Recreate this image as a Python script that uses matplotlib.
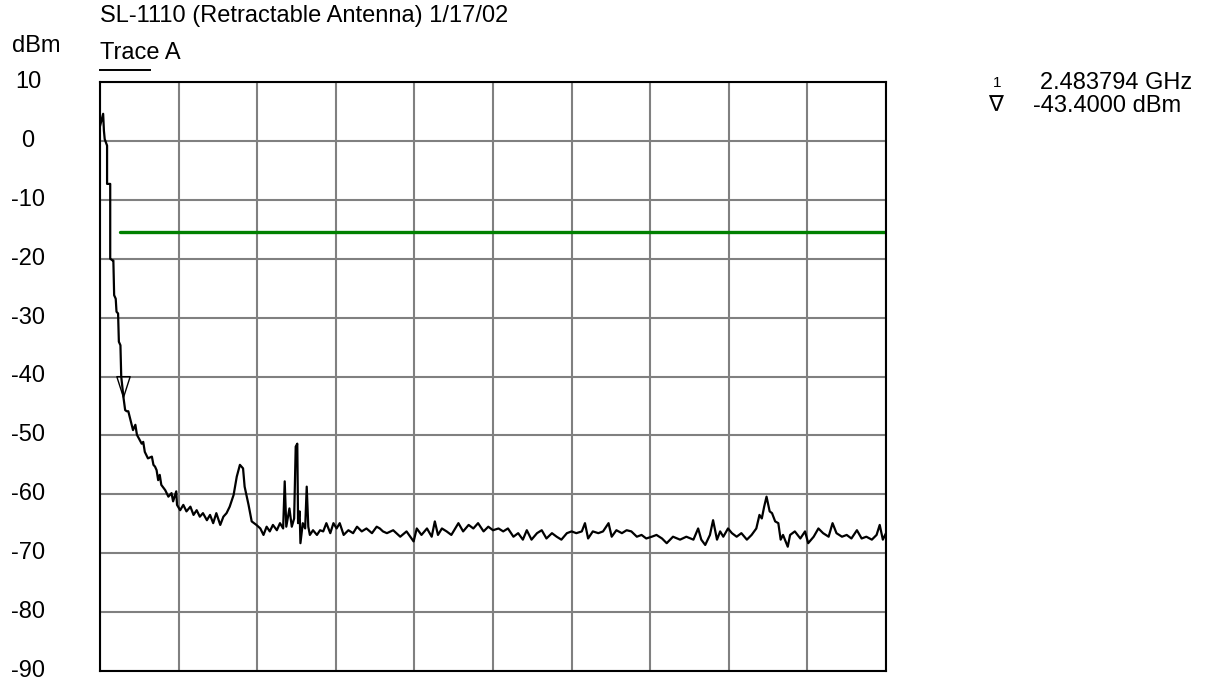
import numpy as np
import matplotlib
matplotlib.use("Agg")
from matplotlib import pyplot as plt
from matplotlib.path import Path

plt.rcParams['font.family'] = ['Liberation Sans', 'DejaVu Sans']

# trace A, x in screen divisions (0-10), level in dBm
trace_x = [0.00, 0.04, 0.05, 0.06, 0.09, 0.09, 0.11, 0.13, 0.13, 0.16, 0.17, 0.18, 0.20, 0.21, 0.23,
           0.24, 0.26, 0.27, 0.30, 0.32, 0.34, 0.36, 0.40, 0.42, 0.45, 0.47, 0.53, 0.55, 0.57, 0.61,
           0.66, 0.68, 0.70, 0.72, 0.74, 0.76, 0.78, 0.83, 0.87, 0.91, 0.93, 0.97, 0.98, 1.02, 1.06,
           1.10, 1.15, 1.19, 1.23, 1.27, 1.31, 1.36, 1.40, 1.44, 1.48, 1.53, 1.57, 1.61, 1.65, 1.70,
           1.74, 1.78, 1.82, 1.84, 1.89, 1.93, 1.99, 2.04, 2.08, 2.12, 2.16, 2.20, 2.25, 2.29, 2.33,
           2.35, 2.37, 2.41, 2.44, 2.47, 2.49, 2.51, 2.52, 2.54, 2.55, 2.58, 2.61, 2.63, 2.65, 2.67,
           2.71, 2.76, 2.80, 2.84, 2.88, 2.93, 2.97, 3.01, 3.05, 3.10, 3.16, 3.22, 3.27, 3.33, 3.39,
           3.46, 3.52, 3.56, 3.60, 3.65, 3.73, 3.82, 3.90, 3.99, 4.03, 4.09, 4.16, 4.22, 4.26, 4.30,
           4.35, 4.41, 4.47, 4.52, 4.56, 4.62, 4.69, 4.75, 4.81, 4.88, 4.94, 5.00, 5.07, 5.13, 5.19,
           5.26, 5.32, 5.38, 5.43, 5.49, 5.56, 5.62, 5.68, 5.75, 5.81, 5.87, 5.94, 6.00, 6.06, 6.13,
           6.17, 6.21, 6.27, 6.34, 6.40, 6.47, 6.51, 6.57, 6.64, 6.70, 6.76, 6.83, 6.89, 6.95, 7.02,
           7.08, 7.15, 7.21, 7.29, 7.38, 7.46, 7.55, 7.61, 7.65, 7.70, 7.76, 7.80, 7.85, 7.89, 7.93,
           7.99, 8.04, 8.10, 8.16, 8.23, 8.29, 8.35, 8.39, 8.42, 8.45, 8.48, 8.52, 8.55, 8.59, 8.63,
           8.66, 8.69, 8.75, 8.78, 8.84, 8.91, 8.97, 9.01, 9.08, 9.14, 9.20, 9.27, 9.32, 9.37, 9.44,
           9.50, 9.56, 9.63, 9.69, 9.75, 9.82, 9.88, 9.92, 9.96, 10.00]
trace_dbm = [2.5, 4.6, 1.7, 0.3, -0.8, -7.3, -7.3, -7.3, -20.0, -20.3, -20.3, -26.2, -26.8, -29.0, -29.3,
             -34.1, -34.7, -40.0, -43.7, -45.7, -45.9, -45.9, -48.0, -49.1, -48.2, -49.9, -51.4, -51.1, -52.8, -53.9,
             -53.6, -55.0, -55.3, -55.9, -57.6, -56.7, -58.4, -59.3, -60.4, -59.8, -61.2, -59.5, -61.8, -62.7, -61.8,
             -62.9, -62.1, -63.5, -62.7, -63.8, -63.2, -64.4, -63.5, -64.9, -63.2, -65.2, -63.8, -63.2, -62.1, -60.1,
             -57.0, -55.0, -55.6, -58.7, -61.8, -64.6, -65.2, -65.8, -66.9, -65.5, -66.3, -65.2, -66.1, -64.9, -65.8,
             -57.8, -65.5, -62.4, -65.5, -64.1, -51.9, -51.4, -64.9, -62.9, -68.3, -64.9, -65.8, -58.7, -65.5, -66.9,
             -66.1, -66.9, -66.1, -66.3, -64.9, -66.6, -64.9, -65.8, -64.9, -66.9, -66.1, -66.6, -65.5, -66.3, -65.8,
             -66.6, -65.5, -65.8, -66.3, -66.6, -66.1, -67.2, -66.3, -68.0, -65.8, -66.9, -65.8, -67.2, -64.6, -66.9,
             -65.8, -66.3, -66.9, -65.8, -64.9, -66.3, -65.2, -65.8, -64.9, -66.3, -65.5, -66.1, -65.8, -66.3, -65.8,
             -67.2, -66.6, -67.7, -66.1, -67.7, -66.6, -66.1, -67.5, -66.6, -67.2, -67.7, -66.6, -66.3, -66.6, -66.3,
             -64.9, -67.5, -66.3, -66.6, -66.3, -64.9, -67.2, -66.1, -66.6, -66.1, -66.3, -67.2, -66.9, -67.5, -67.2,
             -66.9, -67.5, -68.3, -67.2, -67.7, -67.2, -67.7, -65.8, -67.7, -68.6, -66.9, -64.4, -67.7, -66.3, -67.2,
             -65.8, -66.6, -67.2, -66.6, -67.7, -66.9, -65.8, -63.5, -64.1, -62.1, -60.4, -62.9, -63.2, -64.6, -64.9,
             -67.7, -66.9, -68.9, -66.9, -66.3, -67.5, -66.3, -68.3, -67.2, -65.8, -66.6, -67.2, -64.9, -66.6, -67.2,
             -66.9, -67.5, -66.1, -67.5, -67.2, -67.7, -66.9, -65.2, -67.7, -66.6]

# display line (green)
limit_x = [0.26, 10.0]
limit_dbm = [-15.5, -15.5]

# marker 1
marker_x = 0.29
marker_dbm = -43.4
marker_freq = "2.483794 GHz"
marker_level = "-43.4000 dBm"

y_ticks = [10, 0, -10, -20, -30, -40, -50, -60, -70, -80, -90]
title = "SL-1110 (Retractable Antenna) 1/17/02"

W, H = 1206, 684
FS = 17
fig = plt.figure(figsize=(W / 100, H / 100), dpi=100)
ax = fig.add_axes([100 / W, (H - 671) / H, 786 / W, 589 / H])

ax.set_xlim(0, 10)
ax.set_ylim(-90, 10)
ax.set_xticks(np.arange(0, 11, 1))
ax.set_yticks(y_ticks)
ax.grid(True, color='#808080', linewidth=1.5)
ax.tick_params(length=0, labelbottom=False, labelleft=False)
for s in ax.spines.values():
    s.set_linewidth(1.5)
    s.set_zorder(5)

ax.plot(limit_x, limit_dbm, color='#008000', linewidth=2.4, solid_capstyle='round', zorder=3)
ax.plot(trace_x, trace_dbm, color='black', linewidth=1.6, zorder=4)

# marker triangle with its tip on the trace
tri = Path([(-0.32, 1.0), (0.32, 1.0), (0.0, 0.0), (-0.32, 1.0)],
           [Path.MOVETO, Path.LINETO, Path.LINETO, Path.CLOSEPOLY])
ax.plot([marker_x], [marker_dbm], marker=tri, markersize=30, markerfacecolor='none',
        markeredgecolor='black', markeredgewidth=1.0, linestyle='none', zorder=6)


def px(x, y):
    return x / W, 1 - y / H


for v in y_ticks:
    yy = ax.transData.transform((0, v))[1]
    fig.text(28 / W, yy / H, str(v), ha='center', va='center', fontsize=FS)

fig.text(*px(12, 46), "dBm", ha='left', va='center', fontsize=FS)
fig.text(*px(100, 16), title, ha='left', va='center', fontsize=FS)
fig.text(*px(100, 53), "Trace A", ha='left', va='center', fontsize=FS)
fig.add_artist(plt.Line2D([100 / W, 150 / W], [1 - 70 / H, 1 - 70 / H], color='black', linewidth=1.4))

fig.text(*px(997, 83), "1", ha='center', va='center', fontsize=11)
fig.text(*px(996, 106), "\u2207", ha='center', va='center', fontsize=16)
fig.text(*px(1040, 83), marker_freq, ha='left', va='center', fontsize=FS)
fig.text(*px(1033, 106), marker_level, ha='left', va='center', fontsize=FS)

fig.savefig("out.png", dpi=100)
